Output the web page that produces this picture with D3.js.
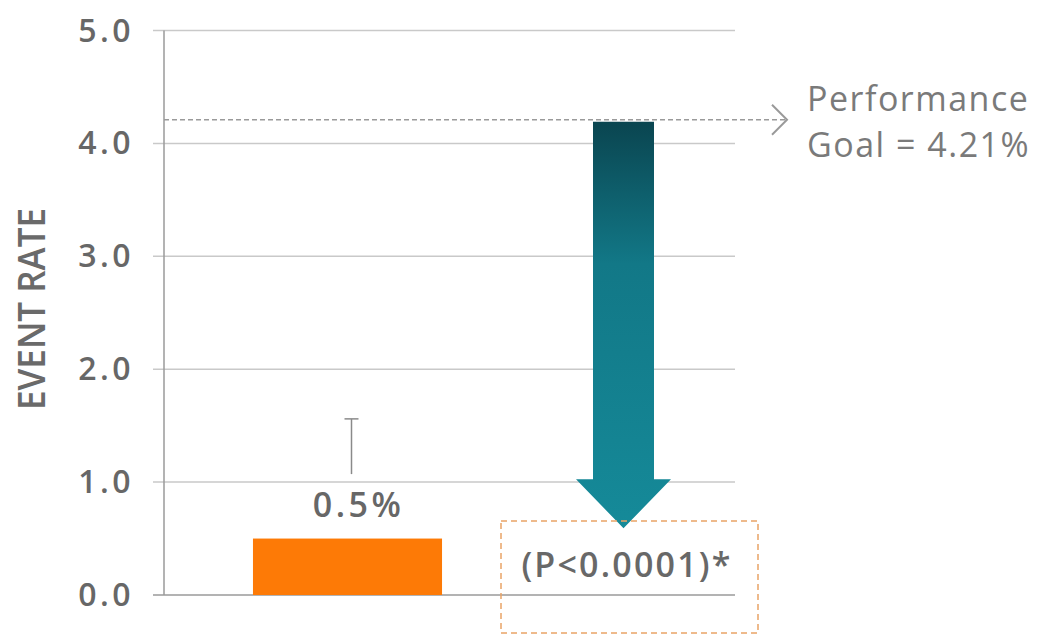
<!DOCTYPE html>
<html>
<head>
<meta charset="utf-8">
<script src="https://cdn.jsdelivr.net/npm/d3@7"></script>
<style>
  html, body { margin: 0; padding: 0; background: #ffffff; }
  svg { display: block; }
  text { font-family: "Open Sans", "Noto Sans", sans-serif; }
</style>
</head>
<body>
<svg id="chart" width="1046" height="637"></svg>
<script>
// Event rate data
const categories = ["Observed", "Performance Goal"];
const observedRate = 0.5;          // observed event rate (%)
const observedUpper = 1.56;        // upper confidence bound
const goalRate = 4.21;             // performance goal (%)
const arrowEnd = 0.6;              // where the reduction arrow points
const yTicks = [0, 1, 2, 3, 4, 5];
const yTickLabels = ["0.0", "1.0", "2.0", "3.0", "4.0", "5.0"];
const observedLabel = "0.5%";
const pValueLabel = "(P<0.0001)*";
const goalLabel = ["Performance", "Goal = 4.21%"];
const yAxisTitle = "EVENT RATE";

const svg = d3.select("#chart");

const y = d3.scaleLinear().domain([0, 5]).range([595, 30.5]);
const x = d3.scalePoint().domain(categories).range([209.5, 761.5]).padding(0.5);
const step = x.step();
const barWidth = step * 0.685;

const gridLeft = 153, gridRight = 735, axisX = 164;

// gridlines
svg.append("g").selectAll("line")
  .data(yTicks.filter(d => d > 0))
  .join("line")
  .attr("x1", gridLeft).attr("x2", gridRight)
  .attr("y1", d => y(d)).attr("y2", d => y(d))
  .attr("stroke", "#c9c9c9").attr("stroke-width", 1.5);

// baseline
svg.append("line")
  .attr("x1", gridLeft).attr("x2", gridRight)
  .attr("y1", y(0)).attr("y2", y(0))
  .attr("stroke", "#9a9a9a").attr("stroke-width", 1.5);

// vertical axis
svg.append("line")
  .attr("x1", axisX).attr("x2", axisX)
  .attr("y1", y(5)).attr("y2", y(0))
  .attr("stroke", "#9a9a9a").attr("stroke-width", 1.5);

// tick labels
svg.append("g").selectAll("text")
  .data(yTicks)
  .join("text")
  .attr("x", 134)
  .attr("y", d => y(d) + 11)
  .attr("text-anchor", "end")
  .attr("font-size", 32)
  .attr("font-weight", 600)
  .attr("letter-spacing", 3.5)
  .attr("fill", "#676767")
  .text((d, i) => yTickLabels[i]);

// axis title
svg.append("text")
  .attr("transform", "translate(45,309) rotate(-90)")
  .attr("text-anchor", "middle")
  .attr("font-size", 37)
  .attr("font-weight", 600)
  .attr("textLength", 202)
  .attr("lengthAdjust", "spacingAndGlyphs")
  .attr("fill", "#6a6a6a")
  .text(yAxisTitle);

// performance goal dashed line
const goalY = y(goalRate);
svg.append("line")
  .attr("x1", axisX).attr("x2", 785)
  .attr("y1", goalY).attr("y2", goalY)
  .attr("stroke", "#9a9a9a").attr("stroke-width", 1.5)
  .attr("stroke-dasharray", "5,3");
svg.append("path")
  .attr("d", `M772,${goalY - 15} L787,${goalY} L772,${goalY + 15}`)
  .attr("fill", "none")
  .attr("stroke", "#9a9a9a").attr("stroke-width", 2);

svg.append("g").selectAll("text")
  .data(goalLabel)
  .join("text")
  .attr("x", 807)
  .attr("y", (d, i) => 111 + i * 46)
  .attr("font-size", 34)
  .attr("letter-spacing", 1.5)
  .attr("fill", "#7a7a7a")
  .text(d => d);

// observed bar
const cx0 = x(categories[0]);
svg.append("rect")
  .attr("x", cx0 - barWidth / 2)
  .attr("y", y(observedRate))
  .attr("width", barWidth)
  .attr("height", y(0) - y(observedRate))
  .attr("fill", "#fd7a06");

// upper confidence whisker
const wx = cx0 + 4;
svg.append("line")
  .attr("x1", wx).attr("x2", wx)
  .attr("y1", y(1) - 8).attr("y2", y(observedUpper))
  .attr("stroke", "#8a8a8a").attr("stroke-width", 1.5);
svg.append("line")
  .attr("x1", wx - 7).attr("x2", wx + 7)
  .attr("y1", y(observedUpper)).attr("y2", y(observedUpper))
  .attr("stroke", "#8a8a8a").attr("stroke-width", 1.5);

// value label
svg.append("text")
  .attr("x", cx0 + 11)
  .attr("y", 517)
  .attr("text-anchor", "middle")
  .attr("font-size", 34)
  .attr("font-weight", 600)
  .attr("letter-spacing", 3.5)
  .attr("fill", "#676767")
  .text(observedLabel);

// reduction arrow from goal down to observed level
const cx1 = x(categories[1]);
const defs = svg.append("defs");
const grad = defs.append("linearGradient")
  .attr("id", "arrowFill")
  .attr("x1", 0).attr("y1", 0).attr("x2", 0).attr("y2", 1);
grad.append("stop").attr("offset", "0%").attr("stop-color", "#0a4550");
grad.append("stop").attr("offset", "35%").attr("stop-color", "#127887");
grad.append("stop").attr("offset", "100%").attr("stop-color", "#158a99");

const shaftHalf = 30.5, headHalf = 47.5, headLen = 49;
const topY = y(goalRate) + 2, tipY = y(arrowEnd) + 1;
const headY = tipY - headLen;
svg.append("path")
  .attr("d", [
    `M${cx1 - shaftHalf},${topY}`,
    `L${cx1 + shaftHalf},${topY}`,
    `L${cx1 + shaftHalf},${headY}`,
    `L${cx1 + headHalf},${headY}`,
    `L${cx1},${tipY}`,
    `L${cx1 - headHalf},${headY}`,
    `L${cx1 - shaftHalf},${headY}`,
    "Z"
  ].join(" "))
  .attr("fill", "url(#arrowFill)");

// p-value box
const boxX = 501, boxY = 521, boxW = 257, boxH = 112;
svg.append("rect")
  .attr("x", boxX).attr("y", boxY)
  .attr("width", boxW).attr("height", boxH)
  .attr("fill", "none")
  .attr("stroke", "#e9a467").attr("stroke-width", 1.5)
  .attr("stroke-dasharray", "6,4");

svg.append("text")
  .attr("x", 627)
  .attr("y", 577)
  .attr("text-anchor", "middle")
  .attr("font-size", 34)
  .attr("font-weight", 600)
  .attr("letter-spacing", 2.2)
  .attr("fill", "#686868")
  .text(pValueLabel);
</script>
</body>
</html>
